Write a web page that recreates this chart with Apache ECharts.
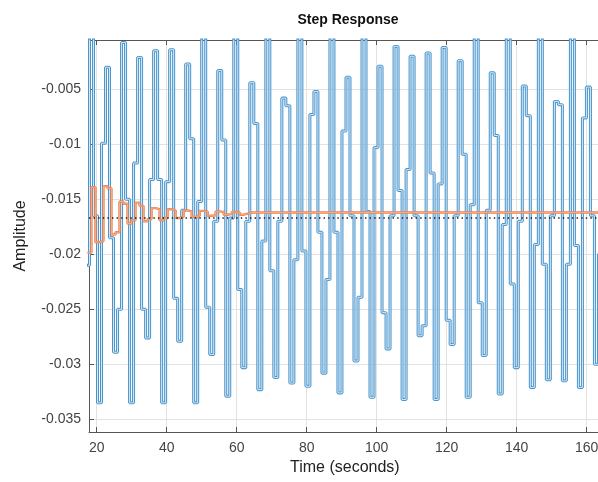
<!DOCTYPE html>
<html><head><meta charset="utf-8">
<script src="https://cdn.jsdelivr.net/npm/echarts@6/dist/echarts.min.js"></script>
<style>html,body{margin:0;padding:0;background:#fff}#c{width:598px;height:482px}</style>
</head><body><div id="c"></div>
<script>
const titleText = 'Step Response';
const xName = 'Time (seconds)';
const yName = 'Amplitude';
const xTicks = [20, 40, 60, 80, 100, 120, 140, 160];
const yTicks = [-0.035, -0.03, -0.025, -0.02, -0.015, -0.01, -0.005];
const yTickLabels = ['-0.035', '-0.03', '-0.025', '-0.02', '-0.015', '-0.01', '-0.005'];
const xRange = [17.8, 164];
const yRange = [-0.03615, -0.00052];

// discrete-time samples (held between samples)
const sampleTime = 1.145;
const blueStart = 16.795;
const blueValues = [
  -0.0210, 0.0000, -0.0165,
  -0.0335, -0.0099, -0.0030, -0.0185,
  -0.0289, -0.0250, -0.00075, -0.0150,
  -0.0335, -0.0117, -0.0021, -0.0250,
  -0.0276, -0.0132, -0.0015, -0.0132,
  -0.0335, -0.0134, -0.0014, -0.0240,
  -0.0279, -0.0160, -0.0027, -0.0095,
  -0.0335, -0.0152, 0.0000, -0.0248,
  -0.0291, -0.0170, -0.0033, -0.0096,
  -0.0329, -0.0167, 0.0000, -0.0232,
  -0.0303, -0.0170, -0.0044, -0.0081,
  -0.0323, -0.0188, 0.0000, -0.0215,
  -0.0312, -0.0170, -0.0058, -0.0065,
  -0.0317, -0.0205, 0.0000, -0.0197,
  -0.0320, -0.0073, -0.0052, -0.0180,
  -0.0308, -0.0223, 0.0000, -0.0180,
  -0.0326, -0.0088, -0.0039, -0.0165,
  -0.0297, -0.0239, 0.0000, -0.0161,
  -0.0330, -0.0103, -0.0029, -0.0253,
  -0.0286, -0.0165, -0.0011, -0.0142,
  -0.0332, -0.0123, -0.0020, -0.0165,
  -0.0274, -0.0265, -0.0017, -0.0126,
  -0.0332, -0.0136, -0.0012, -0.0260,
  -0.0282, -0.0165, -0.0024, -0.0109,
  -0.0330, -0.0155, 0.0000, -0.0244,
  -0.0292, -0.0160, -0.0035, -0.0092,
  -0.0327, -0.0173, 0.0000, -0.0227,
  -0.0303, -0.0170, -0.0047, -0.0074,
  -0.0321, -0.0191, 0.0000, -0.0209,
  -0.0314, -0.0165, -0.0061, -0.0064,
  -0.0315, -0.0209, 0.0000, -0.0192,
  -0.0321, -0.0076, -0.0048, -0.0165,
  -0.0300, -0.0200, 0.0000, -0.0180
];
const orangeStart = 17.35;
const orangeValues = [
  -0.01985, -0.0139, -0.0189, -0.0188, -0.0138, -0.0140, -0.0182, -0.0180,
  -0.0152, -0.0154, -0.0172, -0.0169, -0.0153, -0.0156, -0.0170, -0.0168,
  -0.0158, -0.0159, -0.0169, -0.0167, -0.0159, -0.0160, -0.0167, -0.0166,
  -0.0160, -0.0161, -0.0166, -0.0165, -0.01605, -0.0161, -0.0165, -0.01645,
  -0.0161, -0.01615, -0.0164, -0.01635, -0.01615, -0.0162, -0.0164, -0.0163,
  -0.0162, -0.0162
];
const steadyState = -0.0167;

const blueData = blueValues.map((v, i) => [blueStart + i * sampleTime, v]);
const orangeData = orangeValues.map((v, i) => [orangeStart + i * sampleTime, v]);
orangeData.push([xRange[1] + 2, orangeValues[orangeValues.length - 1]]);
const ssData = [[xRange[0], steadyState], [xRange[1], steadyState]];

const FONT = 'Liberation Sans, Arial, sans-serif';
const axisCol = '#555555';
const labelCol = '#444444';
const gridCol = '#e2e2e2';

const chart = echarts.init(document.getElementById('c'), null, {renderer: 'canvas'});
const stairs = (data, color, width, z) => ({
  type: 'line', data, step: 'end', symbol: 'none', showSymbol: false,
  lineStyle: {color, width}, z, clip: true, animation: false, silent: true
});
chart.setOption({
  animation: false,
  backgroundColor: '#ffffff',
  title: {
    text: titleText, left: 343, top: 8, textAlign: 'center',
    textStyle: {fontSize: 14, fontWeight: 'bold', color: '#111', fontFamily: FONT}
  },
  grid: {left: 89, top: 40, width: 511.7, height: 392, outerBoundsMode: 'none', containLabel: false},
  xAxis: [{
    type: 'value', min: xRange[0], max: xRange[1], position: 'bottom', splitNumber: 8,
    name: xName, nameLocation: 'middle', nameGap: 27,
    nameTextStyle: {fontSize: 16, color: '#222', fontFamily: FONT},
    axisLine: {show: true, onZero: false, lineStyle: {color: axisCol, width: 1}},
    axisTick: {show: true, inside: true, length: 5, customValues: xTicks, lineStyle: {color: axisCol}},
    axisLabel: {customValues: xTicks, color: labelCol, fontSize: 14, margin: 9, fontFamily: FONT},
    splitLine: {show: true, lineStyle: {color: gridCol, width: 1}}
  }, {
    type: 'value', min: xRange[0], max: xRange[1], position: 'top', splitNumber: 8,
    axisLine: {show: true, onZero: false, lineStyle: {color: axisCol, width: 1}},
    axisTick: {show: true, inside: true, length: 5, customValues: xTicks, lineStyle: {color: axisCol}},
    axisLabel: {show: false}, splitLine: {show: false}
  }],
  yAxis: [{
    type: 'value', min: yRange[0], max: yRange[1], splitNumber: 7,
    name: yName, nameLocation: 'middle', nameGap: 60,
    nameTextStyle: {fontSize: 16, color: '#222', fontFamily: FONT},
    axisLine: {show: true, onZero: false, lineStyle: {color: axisCol, width: 1}},
    axisTick: {show: true, inside: true, length: 5, customValues: yTicks, lineStyle: {color: axisCol}},
    axisLabel: {
      customValues: yTicks, color: labelCol, fontSize: 14, margin: 8, fontFamily: FONT,
      formatter: (v) => {
        let best = 0;
        yTicks.forEach((t, i) => { if (Math.abs(t - v) < Math.abs(yTicks[best] - v)) best = i; });
        return yTickLabels[best];
      }
    },
    splitLine: {show: true, lineStyle: {color: gridCol, width: 1}}
  }],
  series: [
    stairs(blueData, '#4a94cc', 3.0, 2),
    stairs(blueData, '#d6eaf7', 1.0, 3),
    stairs(orangeData, '#ec8050', 2.4, 4),
    stairs(orangeData, '#f6b896', 0.8, 5),
    {type: 'line', data: ssData, symbol: 'none', showSymbol: false, z: 6, animation: false, silent: true,
     lineStyle: {color: '#1a1a1a', width: 1.4, type: [1.4, 3.2]}}
  ]
});
</script>
</body></html>
